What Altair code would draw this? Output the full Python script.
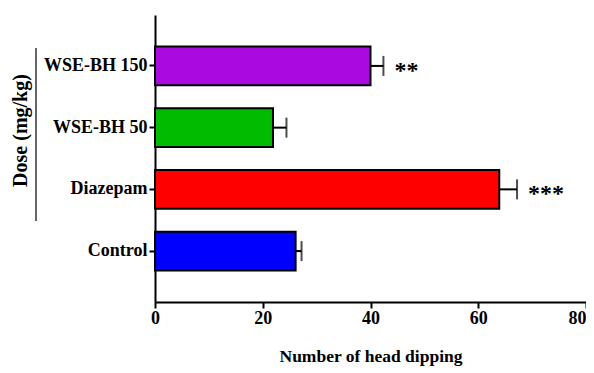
import altair as alt
import pandas as pd

categories = ["WSE-BH 150", "WSE-BH 50", "Diazepam", "Control"]
means = [40.0, 21.9, 63.9, 26.1]
errors = [2.4, 2.5, 3.3, 1.1]
stars = ["**", "", "***", ""]
colors = ["#AA0ADF", "#00BB00", "#FF0000", "#0000FF"]

df = pd.DataFrame({
    "dose": categories,
    "mean": means,
    "err": errors,
    "star": stars,
})
df["upper"] = df["mean"] + df["err"]

FONT = "Liberation Serif"

y_enc = alt.Y(
    "dose:N",
    sort=categories,
    scale=alt.Scale(paddingInner=0.37, paddingOuter=0.51),
    axis=alt.Axis(
        title="Dose (mg/kg)",
        titleAngle=270,
        titleAlign="center",
        titleBaseline="middle",
        titleX=-135,
        titleY=115,
        titleFontSize=20,
        labelFontSize=18,
        tickSize=6,
        labelPadding=2,
    ),
)

x_scale = alt.Scale(domain=[0, 80], nice=False)

bars = alt.Chart(df).mark_bar(stroke="black", strokeWidth=2).encode(
    y=y_enc,
    x=alt.X(
        "mean:Q",
        scale=x_scale,
        axis=alt.Axis(
            title="Number of head dipping",
            values=[0, 20, 40, 60, 80],
            titleFontSize=17.5,
            labelFontSize=18,
            labelFlush=False,
            labelAlign={"condition": {"test": "datum.value == 80", "value": "right"}, "value": "center"},
            tickSize=6,
            labelPadding=1,
            titlePadding=20,
        ),
    ),
    color=alt.Color("dose:N", scale=alt.Scale(domain=categories, range=colors), legend=None),
)

err_line = alt.Chart(df).mark_rule(color="black", strokeWidth=2).encode(
    y=alt.Y("dose:N", sort=categories),
    x=alt.X("mean:Q", scale=x_scale),
    x2="upper:Q",
)

err_cap = alt.Chart(df).mark_tick(color="black", thickness=2, size=20, orient="vertical").encode(
    y=alt.Y("dose:N", sort=categories),
    x=alt.X("upper:Q", scale=x_scale),
)

star_text = alt.Chart(df).mark_text(
    align="left", baseline="middle", dx=11, dy=5, fontSize=24, fontWeight="bold", font=FONT, color="black"
).encode(
    y=alt.Y("dose:N", sort=categories),
    x=alt.X("upper:Q", scale=x_scale),
    text="star:N",
)

side_line = alt.Chart(df).mark_rule(color="#666666", strokeWidth=1.5).encode(
    x=alt.value(-119),
    y=alt.value(33),
    y2=alt.value(206),
)

chart = alt.layer(bars, err_line, err_cap, star_text, side_line).properties(
    width=431,
    height=287,
    autosize=alt.AutoSizeParams(type="none"),
    padding={"left": 147, "top": 7, "right": 0, "bottom": 68},
).configure_view(stroke=None).configure_axis(
    grid=False,
    domainColor="black",
    domainWidth=2,
    tickColor="black",
    tickWidth=2,
    labelFont=FONT,
    titleFont=FONT,
    labelFontWeight="bold",
    titleFontWeight="bold",
    labelColor="black",
    titleColor="black",
)

chart.save("out.html", embed_options={"renderer": "svg", "actions": False})
